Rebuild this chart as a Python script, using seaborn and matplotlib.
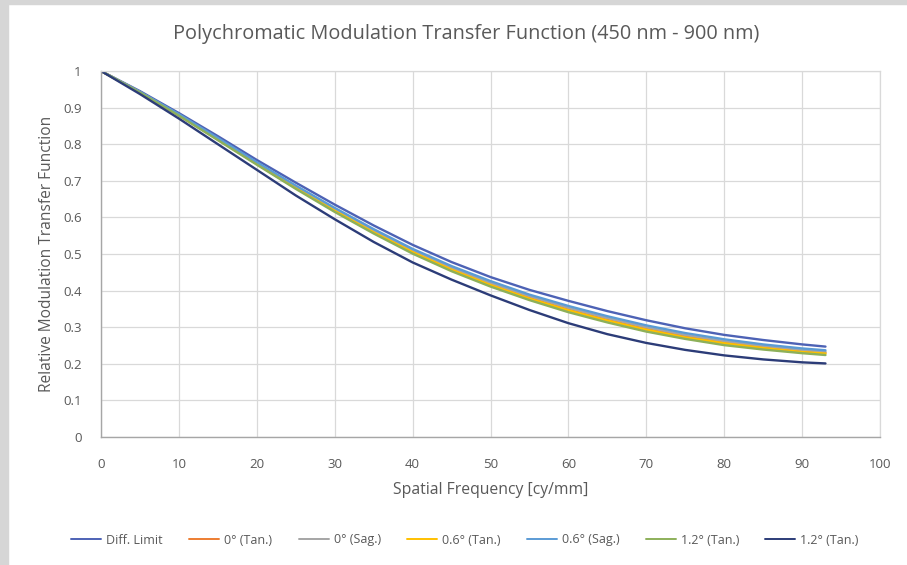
import numpy as np
import pandas as pd
import matplotlib
matplotlib.use("Agg")
import matplotlib.pyplot as plt
from matplotlib.patches import Rectangle
import seaborn as sns

freq = [0, 5, 10, 15, 20, 25, 30, 35, 40, 45, 50, 55, 60, 65, 70, 75, 80, 85, 90, 93]

diff_limit = [1.0, 0.945, 0.885, 0.822, 0.757, 0.695, 0.635, 0.578, 0.525, 0.478,
              0.437, 0.402, 0.372, 0.344, 0.319, 0.297, 0.279, 0.265, 0.253, 0.247]
tan_0 = [1.0, 0.942, 0.879, 0.814, 0.747, 0.682, 0.620, 0.561, 0.507, 0.459,
         0.417, 0.380, 0.348, 0.320, 0.295, 0.275, 0.258, 0.245, 0.234, 0.230]
sag_0 = [1.0, 0.942, 0.880, 0.815, 0.749, 0.684, 0.623, 0.564, 0.511, 0.463,
         0.421, 0.385, 0.353, 0.325, 0.300, 0.279, 0.262, 0.249, 0.238, 0.233]
tan_06 = [1.0, 0.942, 0.879, 0.813, 0.746, 0.680, 0.618, 0.559, 0.505, 0.457,
          0.415, 0.378, 0.346, 0.318, 0.293, 0.272, 0.256, 0.243, 0.232, 0.228]
sag_06 = [1.0, 0.943, 0.882, 0.817, 0.751, 0.687, 0.626, 0.568, 0.514, 0.467,
          0.426, 0.389, 0.358, 0.330, 0.305, 0.284, 0.267, 0.253, 0.242, 0.237]
tan_12_a = [1.0, 0.941, 0.878, 0.811, 0.744, 0.678, 0.615, 0.556, 0.501, 0.453,
            0.411, 0.374, 0.341, 0.313, 0.288, 0.268, 0.251, 0.239, 0.229, 0.224]
tan_12_b = [1.0, 0.937, 0.870, 0.800, 0.730, 0.660, 0.595, 0.533, 0.477, 0.430,
            0.387, 0.347, 0.311, 0.281, 0.257, 0.238, 0.223, 0.212, 0.204, 0.201]

series_names = ["Diff. Limit", "0° (Tan.)", "0° (Sag.)", "0.6° (Tan.)",
                "0.6° (Sag.)", "1.2° (Tan.)", "1.2° (Tan.) "]
series_values = [diff_limit, tan_0, sag_0, tan_06, sag_06, tan_12_a, tan_12_b]
colors = ["#4d62b5", "#ed7d31", "#a5a5a5", "#ffc000", "#5b9bd5", "#8db05a", "#2c3c78"]

x_ticks = list(range(0, 101, 10))
y_ticks = [0, 0.1, 0.2, 0.3, 0.4, 0.5, 0.6, 0.7, 0.8, 0.9, 1]
y_tick_labels = ["0", "0.1", "0.2", "0.3", "0.4", "0.5", "0.6", "0.7", "0.8", "0.9", "1"]

sns.set_theme(style="whitegrid")
plt.rcParams["font.family"] = ["Open Sans", "DejaVu Sans"]

fig = plt.figure(figsize=(9.07, 5.65), dpi=100)
fig.patch.set_facecolor("white")
fig.patches.append(Rectangle((0, 0), 8 / 907, 1, transform=fig.transFigure,
                             color="#d6d6d6", zorder=0))
fig.patches.append(Rectangle((0, 1 - 4 / 565), 1, 4 / 565, transform=fig.transFigure,
                             color="#d6d6d6", zorder=0))

ax = fig.add_axes([101 / 907, 1 - 437 / 565, (880 - 101) / 907, (437 - 71) / 565])

rows = []
for name, vals in zip(series_names, series_values):
    for f, v in zip(freq, vals):
        rows.append({"freq": f, "mtf": v, "series": name})
df = pd.DataFrame(rows)

sns.lineplot(data=df, x="freq", y="mtf", hue="series", hue_order=series_names,
             palette=dict(zip(series_names, colors)), linewidth=1.7, ax=ax,
             legend=False, sort=False)

ax.set_xlim(0, 100)
ax.set_ylim(0, 1)
ax.set_xticks(x_ticks)
ax.set_yticks(y_ticks)
ax.set_yticklabels(y_tick_labels)
ax.grid(True, color="#d9d9d9", linewidth=0.9)
ax.set_facecolor("white")
for side in ["top", "right"]:
    ax.spines[side].set_color("#d9d9d9")
    ax.spines[side].set_linewidth(0.9)
for side in ["left", "bottom"]:
    ax.spines[side].set_color("#a6a6a6")
    ax.spines[side].set_linewidth(1.0)
ax.tick_params(axis="both", length=0, labelsize=9.5, labelcolor="#595959")
ax.tick_params(axis="x", pad=15)
ax.tick_params(axis="y", pad=14)

ax.set_xlabel("Spatial Frequency [cy/mm]", fontsize=11.3, color="#595959", labelpad=8)
ax.set_ylabel("Relative Modulation Transfer Function", fontsize=11.2, color="#595959",
              labelpad=6)
fig.text(466 / 907, 1 - 34 / 565,
         "Polychromatic Modulation Transfer Function (450 nm - 900 nm)",
         ha="center", va="center", fontsize=14.3, color="#595959")

handles = [plt.Line2D([0], [0], color=c, linewidth=1.4) for c in colors]
fig.legend(handles, [n.strip() for n in series_names], loc="center",
           bbox_to_anchor=(465 / 907, 1 - 540 / 565), ncol=7, frameon=False,
           fontsize=9, handlelength=2.4, handletextpad=0.4, columnspacing=2.1,
           labelcolor="#595959")

fig.savefig("out.png", dpi=100, facecolor="white")
